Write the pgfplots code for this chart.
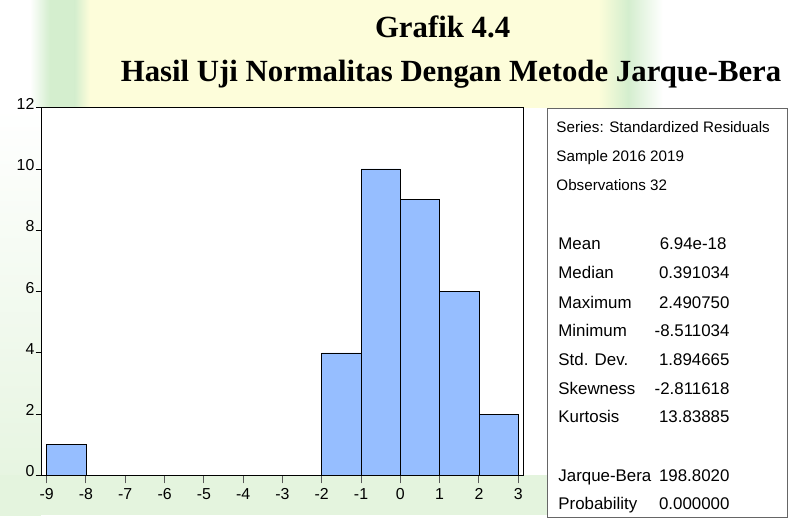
\documentclass[border=0pt]{standalone}
\usepackage{pgfplots}
\pgfplotsset{compat=1.18}
\usepackage{fontspec}
\setmainfont{Liberation Serif}
\newfontfamily\statsans{Liberation Sans}
\definecolor{barblue}{RGB}{150,190,255}
\definecolor{wmyellow}{RGB}{253,253,218}
\definecolor{wmgreen}{RGB}{212,238,206}
\definecolor{wmlgreen}{RGB}{228,244,222}
\begin{document}
\begin{tikzpicture}
\begin{scope}[x=1bp,y=1bp]
\useasboundingbox (0,0) rectangle (788,517);
% faint watermark-like background
\fill[white] (0,0) rectangle (788,517);
\fill[wmyellow] (75,409) rectangle (625,517);
\shade[left color=white, right color=wmgreen] (30,409) rectangle (50,517);
\fill[wmgreen] (50,409) rectangle (75,517);
\shade[left color=wmgreen, right color=wmyellow] (75,409) rectangle (90,517);
\shade[left color=wmyellow, right color=wmgreen] (600,409) rectangle (630,517);
\shade[left color=wmgreen, right color=white] (630,409) rectangle (665,517);
\shade[top color=white, bottom color=wmlgreen] (0,0) rectangle (41,409);
\fill[wmlgreen] (0,0) rectangle (549,40);
\end{scope}
\begin{axis}[
  at={(41.7bp,40bp)}, anchor=south west,
  scale only axis, width=483.3bp, height=369bp,
  xmin=-9.13, xmax=3.13, ymin=0, ymax=12,
  xtick={-9,-8,...,3}, ytick={0,2,...,12},
  tick align=outside, xtick pos=bottom, ytick pos=left,
  major tick length=6bp,
  axis background/.style={fill=white},
  axis line style={line width=1.1bp},
  xtick style={black!65, line width=1bp, /pgfplots/major tick length=8bp},
  ytick style={black, line width=0.8bp},
  tick label style={font=\statsans\fontsize{16}{16}\selectfont, inner sep=0pt},
  xticklabel style={anchor=center, yshift=-13bp},
  yticklabel style={anchor=east, xshift=-1bp, yshift=4bp},
  /pgf/number format/assume math mode=true,
]
\addplot[ybar interval, fill=barblue, draw=black, line width=0.7bp]
  coordinates {(-9,1) (-8,0) (-7,0) (-6,0) (-5,0) (-4,0) (-3,0) (-2,4) (-1,10) (0,9) (1,6) (2,2) (3,2)};
\end{axis}
\begin{scope}[x=1bp,y=1bp]
% titles
\node[anchor=base, font=\bfseries\fontsize{31}{31}\selectfont, inner sep=0pt] at (444,479) {Grafik 4.4};
\node[anchor=base, font=\bfseries\fontsize{31}{31}\selectfont, inner sep=0pt] at (452.5,435) {Hasil Uji Normalitas Dengan Metode Jarque-Bera};
% statistics panel
\draw[fill=white, draw=gray!80!black, line width=1bp] (549,408) rectangle (790,-2);
\begin{scope}[every node/.style={font=\statsans\fontsize{15.3}{15.3}\selectfont, inner sep=0pt}]
\node[anchor=mid west] at (558,386) {Series: Standardized Residuals};
\node[anchor=mid west] at (558,357) {Sample 2016 2019};
\node[anchor=mid west] at (558,328) {Observations 32};
\end{scope}
\begin{scope}[every node/.style={font=\statsans\fontsize{17}{17}\selectfont, inner sep=0pt}]
\node[anchor=mid west] at (560,269) {Mean};
\node[anchor=mid west] at (560,240) {Median};
\node[anchor=mid west] at (560,210) {Maximum};
\node[anchor=mid west] at (560,182) {Minimum};
\node[anchor=mid west] at (560,153) {Std. Dev.};
\node[anchor=mid west] at (560,124) {Skewness};
\node[anchor=mid west] at (560,95) {Kurtosis};
\node[anchor=mid west] at (560,36) {Jarque-Bera};
\node[anchor=mid west] at (560,8) {Probability};
\node[anchor=mid east] at (729,269) {6.94e-18};
\node[anchor=mid east] at (732,240) {0.391034};
\node[anchor=mid east] at (732,210) {2.490750};
\node[anchor=mid east] at (732,182) {-8.511034};
\node[anchor=mid east] at (732,153) {1.894665};
\node[anchor=mid east] at (732,124) {-2.811618};
\node[anchor=mid east] at (732,95) {13.83885};
\node[anchor=mid east] at (732,36) {198.8020};
\node[anchor=mid east] at (732,8) {0.000000};
\end{scope}
\end{scope}
\end{tikzpicture}
\end{document}
